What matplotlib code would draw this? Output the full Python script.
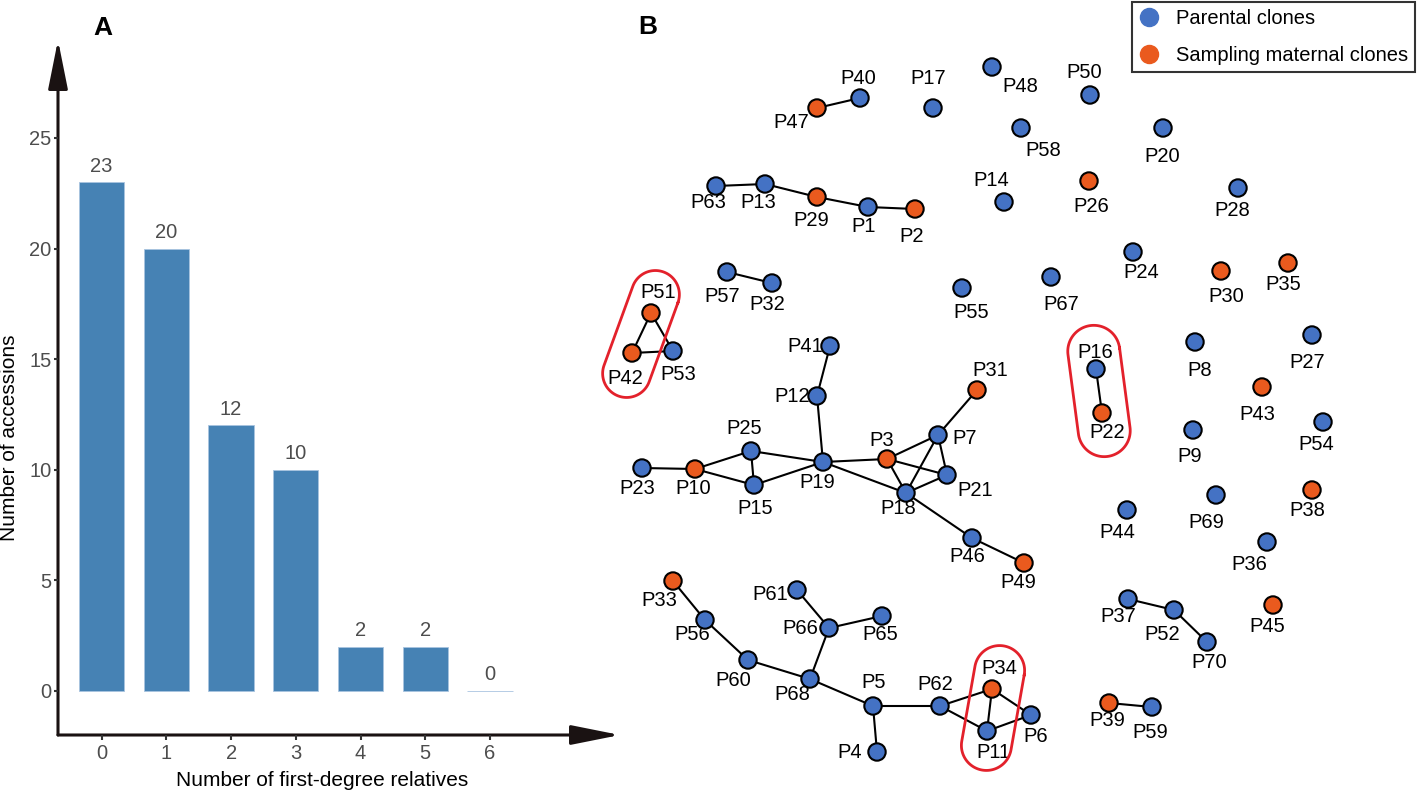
import numpy as np
import matplotlib
matplotlib.use("Agg")
from matplotlib import pyplot as plt
from matplotlib.patches import FancyArrowPatch
from matplotlib.lines import Line2D

plt.rcParams["font.family"] = ["Liberation Sans", "DejaVu Sans"]

# ---- panel A data ----
relatives = [0, 1, 2, 3, 4, 5, 6]
accessions = [23, 20, 12, 10, 2, 2, 0]

# ---- panel B data: node layout (pixel-like layout units), group, edges ----
nodes = ["P1", "P2", "P3", "P4", "P5", "P6", "P7", "P8", "P9", "P10",
         "P11", "P12", "P13", "P14", "P15", "P16", "P17", "P18", "P19", "P20",
         "P21", "P22", "P23", "P24", "P25", "P26", "P27", "P28", "P29", "P30",
         "P31", "P32", "P33", "P34", "P35", "P36", "P37", "P38", "P39", "P40",
         "P41", "P42", "P43", "P44", "P45", "P46", "P47", "P48", "P49", "P50",
         "P51", "P52", "P53", "P54", "P55", "P56", "P57", "P58", "P59", "P60",
         "P61", "P62", "P63", "P65", "P66", "P67", "P68", "P69", "P70"]
node_x = [868, 915, 887, 877, 873, 1031, 938, 1195, 1193, 695,
          987, 817, 765, 1004, 754, 1096, 933, 906, 823, 1163,
          947, 1102, 642, 1133, 751, 1089, 1312, 1238, 817, 1221,
          977, 772, 673, 992, 1288, 1267, 1128, 1312, 1109, 860,
          830, 632, 1262, 1127, 1273, 972, 817, 992, 1024, 1090,
          651, 1174, 673, 1323, 962, 705, 727, 1021, 1152, 748,
          797, 940, 716, 882, 829, 1051, 810, 1216, 1207]
node_y = [207, 209, 459, 752, 706, 715, 435, 342, 430, 469,
          731, 396, 184, 202, 485, 369, 108, 493, 462, 128,
          475, 413, 468, 252, 451, 181, 335, 188, 197, 271,
          390, 283, 581, 689, 263, 542, 599, 490, 703, 98,
          346, 353, 387, 510, 605, 538, 108, 67, 563, 95,
          313, 610, 351, 422, 288, 620, 272, 128, 707, 660,
          590, 706, 186, 616, 628, 277, 679, 495, 642]
maternal = {"P2", "P3", "P10", "P22", "P26", "P29", "P30", "P31", "P33", "P34",
            "P35", "P38", "P39", "P42", "P43", "P45", "P47", "P49", "P51"}
edges = [("P40", "P47"),
         ("P63", "P13"), ("P13", "P29"), ("P29", "P1"), ("P1", "P2"),
         ("P57", "P32"),
         ("P51", "P42"), ("P51", "P53"), ("P42", "P53"),
         ("P41", "P12"), ("P12", "P19"),
         ("P23", "P10"), ("P10", "P25"), ("P10", "P15"), ("P25", "P15"),
         ("P25", "P19"), ("P15", "P19"),
         ("P19", "P3"), ("P19", "P18"),
         ("P3", "P7"), ("P3", "P21"), ("P3", "P18"), ("P7", "P21"),
         ("P7", "P18"), ("P21", "P18"), ("P7", "P31"),
         ("P18", "P46"), ("P46", "P49"),
         ("P16", "P22"),
         ("P33", "P56"), ("P56", "P60"), ("P60", "P68"), ("P68", "P66"),
         ("P66", "P61"), ("P66", "P65"), ("P68", "P5"), ("P5", "P4"),
         ("P5", "P62"), ("P62", "P34"), ("P62", "P11"), ("P34", "P11"),
         ("P34", "P6"), ("P11", "P6"),
         ("P37", "P52"), ("P52", "P70"),
         ("P39", "P59")]

# label placement (layout units)
label_pos = {
    "P1": (864, 227), "P2": (912, 236), "P3": (882, 440), "P4": (850, 753),
    "P5": (874, 683), "P6": (1036, 736), "P7": (965, 438), "P8": (1200, 370),
    "P9": (1190, 457), "P10": (693, 488), "P11": (993, 753), "P12": (792, 396),
    "P13": (758, 203), "P14": (991, 180), "P15": (755, 509), "P16": (1095, 352),
    "P17": (928, 79), "P18": (898, 508), "P19": (817, 483), "P20": (1162, 156),
    "P21": (975, 491), "P22": (1107, 432), "P23": (637, 488), "P24": (1141, 273),
    "P25": (744, 428), "P26": (1091, 206), "P27": (1307, 362), "P28": (1232, 211),
    "P29": (811, 220), "P30": (1226, 297), "P31": (990, 370), "P32": (767, 305),
    "P33": (659, 600), "P34": (999, 669), "P35": (1283, 284), "P36": (1249, 565),
    "P37": (1118, 617), "P38": (1307, 511), "P39": (1107, 721), "P40": (858, 79),
    "P41": (805, 347), "P42": (625, 379), "P43": (1257, 414), "P44": (1117, 532),
    "P45": (1267, 627), "P46": (967, 556), "P47": (791, 122), "P48": (1020, 87),
    "P49": (1018, 583), "P50": (1084, 73), "P51": (658, 292), "P52": (1162, 635),
    "P53": (678, 374), "P54": (1316, 445), "P55": (971, 313), "P56": (692, 635),
    "P57": (722, 297), "P58": (1043, 150), "P59": (1150, 732), "P60": (733, 681),
    "P61": (770, 594), "P62": (935, 684), "P63": (708, 202), "P65": (880, 635),
    "P66": (800, 629), "P67": (1061, 305), "P68": (792, 695), "P69": (1206, 523),
    "P70": (1209, 662)}

# highlighted pairs: centre x, centre y, length, width, tilt (deg)
highlights = [(641, 334, 132, 48, 20),
              (1099, 391, 132, 52, -7.5),
              (993, 708, 126, 50, 10)]

BLUE = "#4472C4"
ORANGE = "#EA5A1E"
BAR = "#4682B4"
GREY = "#4D4D4D"

W, H = 1417, 793
fig = plt.figure(figsize=(W / 100, H / 100), dpi=100)

# ---------------- panel A ----------------
axA = fig.add_axes([58 / W, 1 - 735 / H, (620 - 58) / W, (735 - 40) / H])
axA.bar(relatives, accessions, width=0.7, color=BAR, edgecolor="#A9C4E0", linewidth=0.6)
for xv, yv in zip(relatives, accessions):
    axA.annotate(str(yv), (xv, yv), xytext=(0, 7.5), textcoords="offset points",
                 ha="center", va="baseline", fontsize=14.5, color=GREY)
axA.set_xlim(-0.675, 8.01)
axA.set_ylim(-2.0, 29.43)
axA.set_xticks(relatives)
axA.set_yticks([0, 5, 10, 15, 20, 25])
for s in axA.spines.values():
    s.set_visible(False)
axA.tick_params(axis="x", length=3.5, width=1.5, color="#333333", labelcolor=GREY,
                labelsize=14.5, pad=3)
axA.tick_params(axis="y", length=3, width=1.5, color="#333333", labelcolor=GREY,
                labelsize=14.5, pad=1.5)
for start, end in [((0, 0), (0, 1)), ((0, 0), (1, 0))]:
    arr = FancyArrowPatch(start, end, transform=axA.transAxes,
                          arrowstyle="-|>,head_length=30,head_width=6",
                          mutation_scale=1, lw=2.2, color="#1a1212",
                          shrinkA=0, shrinkB=0, clip_on=False)
    axA.add_patch(arr)

fig.text(322 / W, 1 - 780 / H, "Number of first-degree relatives",
         ha="center", va="center", fontsize=15)
fig.text(10 / W, 1 - 438 / H, "Number of accessions", rotation=90,
         ha="center", va="center", fontsize=15)
fig.text(103 / W, 1 - 28 / H, "A", ha="center", va="center",
         fontsize=19, fontweight="bold")
fig.text(648 / W, 1 - 27 / H, "B", ha="center", va="center",
         fontsize=19, fontweight="bold")

# ---------------- panel B ----------------
axB = fig.add_axes([600 / W, 0, (W - 600) / W, 1])
axB.set_xlim(600, W)
axB.set_ylim(H, 0)
axB.axis("off")

idx = {n: i for i, n in enumerate(nodes)}
for a, b in edges:
    axB.plot([node_x[idx[a]], node_x[idx[b]]], [node_y[idx[a]], node_y[idx[b]]],
             color="black", lw=1.5, zorder=2, solid_capstyle="round")

colors = [ORANGE if n in maternal else BLUE for n in nodes]
axB.scatter(node_x, node_y, s=12.5 ** 2, c=colors, edgecolors="black",
            linewidths=1.5, zorder=3)

for n in nodes:
    lx, ly = label_pos[n]
    axB.text(lx, ly, n, ha="center", va="center", fontsize=14.5, zorder=2.5)


def stadium(cx, cy, length, width, angle):
    r = width / 2
    h = length / 2 - r
    t = np.linspace(0, np.pi, 60)
    top = np.column_stack([r * np.cos(t), h + r * np.sin(t)])
    bot = np.column_stack([r * np.cos(t + np.pi), -h + r * np.sin(t + np.pi)])
    pts = np.vstack([top, bot, top[:1]])
    a = np.radians(angle)
    x = cx + pts[:, 0] * np.cos(a) + pts[:, 1] * np.sin(a)
    y = cy + pts[:, 0] * np.sin(a) - pts[:, 1] * np.cos(a)
    return x, y


for cx, cy, L, w, ang in highlights:
    sx, sy = stadium(cx, cy, L, w, ang)
    axB.plot(sx, sy, color="#E3212B", lw=2.0, zorder=4)

handles = [Line2D([], [], marker="o", ls="", ms=13, color=BLUE, label="Parental clones"),
           Line2D([], [], marker="o", ls="", ms=13, color=ORANGE,
                  label="Sampling maternal clones")]
leg = axB.legend(handles=handles, loc="upper right", bbox_to_anchor=(1.0, 1.0),
                 fontsize=14.5, frameon=True, fancybox=False, borderaxespad=0.1,
                 handlelength=1.0, handletextpad=0.85, labelspacing=0.9,
                 borderpad=0.35)
leg.get_frame().set_edgecolor("black")
leg.get_frame().set_linewidth(1.5)

fig.savefig("out.png", dpi=100)
